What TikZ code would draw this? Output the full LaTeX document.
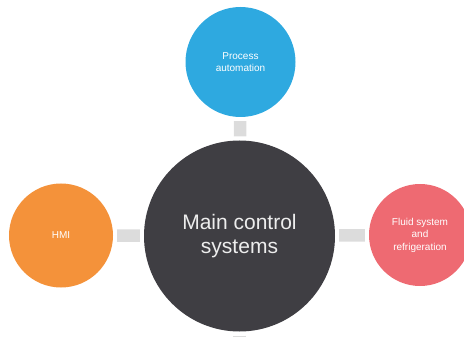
\documentclass[tikz,border=0pt]{standalone}
\usepackage{fontspec}
\setmainfont{Liberation Sans}
\usetikzlibrary{positioning}

\definecolor{procblue}{HTML}{2EA9E0}
\definecolor{hmiorange}{HTML}{F4923A}
\definecolor{fluidred}{HTML}{EE6A72}
\definecolor{maingray}{HTML}{3F3E43}
\definecolor{linkgray}{HTML}{DCDCDC}

\begin{document}
\begin{tikzpicture}[x=1pt, y=-1pt,
  bubble/.style={circle, inner sep=0pt, text=white, align=center,
    font=\fontsize{10}{12.5}\selectfont},
  link/.style={draw=linkgray, line width=12.5pt, shorten <=4pt, shorten >=4pt}]
  \useasboundingbox (0,0) rectangle (464,337);

  % --- hub ---
  \node[bubble, fill=maingray, minimum size=191pt, text=white!93!black,
    font=\fontsize{21}{24}\selectfont] (main) at (239.5,236) {Main control\\systems};

  % --- satellites ---
  \node[bubble, fill=procblue, minimum size=110pt] (proc) at (240.5,62) {Process\\automation};
  \node[bubble, fill=hmiorange, minimum size=104pt] (hmi) at (61,235.5) {HMI};
  \node[bubble, fill=fluidred, minimum size=102pt] (fluid) at (420,235) {Fluid system\\and\\refrigeration};
  \coordinate (below) at (239.5,370);

  % --- links ---
  \draw[link] (proc) -- (main);
  \draw[link] (hmi) -- (main);
  \draw[link] (main) -- (fluid);
  \draw[link] (main) -- (below);
\end{tikzpicture}
\end{document}
